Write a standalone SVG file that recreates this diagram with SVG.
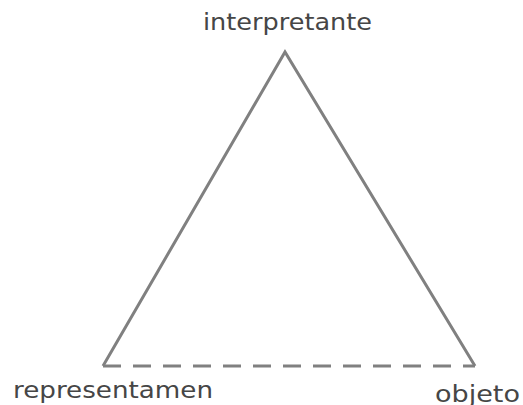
<svg xmlns="http://www.w3.org/2000/svg" width="523" height="405" viewBox="0 0 523 405">
<style>
.edge{stroke:#808080;stroke-width:3;fill:none;stroke-linecap:butt;stroke-linejoin:miter}
.dash{stroke-dasharray:18 12}
.lbl{font-family:"DejaVu Sans","Liberation Sans",sans-serif;font-size:23px;fill:#464646}
</style>
<rect width="523" height="405" fill="#ffffff"/>
<g id="connectors">
<polyline class="edge" points="103,366 285,52 475,366"/>
<line class="edge dash" x1="103" y1="366" x2="475" y2="366"/>
</g>
<g id="interpretante"><text class="lbl" x="203" y="30" textLength="169" lengthAdjust="spacingAndGlyphs">interpretante</text></g>
<g id="representamen"><text class="lbl" x="13" y="398" textLength="200" lengthAdjust="spacingAndGlyphs">representamen</text></g>
<g id="objeto"><text class="lbl" x="435" y="402" textLength="85" lengthAdjust="spacingAndGlyphs">objeto</text></g>
</svg>
